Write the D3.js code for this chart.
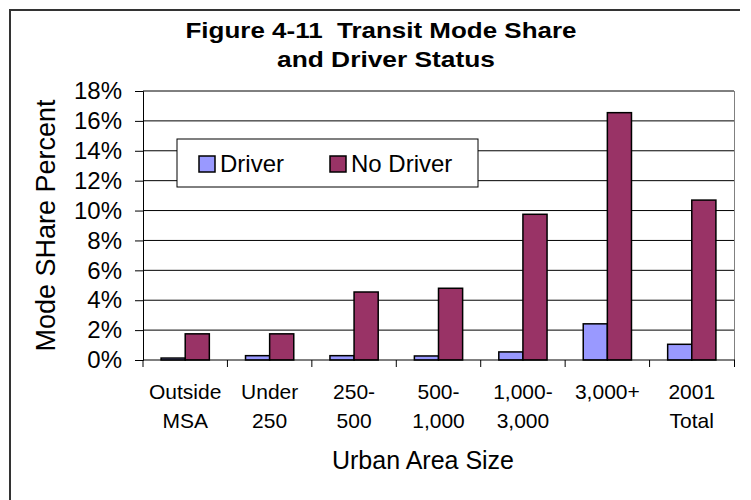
<!DOCTYPE html>
<meta charset="utf-8">
<script src="https://d3js.org/d3.v7.js"></script>
<style>
  body { margin: 0; background: #fff; }
  text { font-family: "Liberation Sans", Arial, sans-serif; fill: #000; }
</style>
<svg id="chart" width="751" height="500"></svg>
<script>

// data (percent shares)
const categories = ["Outside MSA", "Under 250", "250-500", "500-1,000", "1,000-3,000", "3,000+", "2001 Total"]
const categoryLines = [["Outside", "MSA"], ["Under", "250"], ["250-", "500"], ["500-", "1,000"], ["1,000-", "3,000"], ["3,000+"], ["2001", "Total"]]
const seriesNames = ["Driver", "No Driver"]
const driverValues = [0.0013, 0.0029, 0.0029, 0.0027, 0.0054, 0.0242, 0.0105]
const noDriverValues = [0.0175, 0.0175, 0.0455, 0.048, 0.0975, 0.1655, 0.107]
const yTicks = [0, 0.02, 0.04, 0.06, 0.08, 0.10, 0.12, 0.14, 0.16, 0.18]
const colors = {"Driver": "#9999ff", "No Driver": "#993366"}

const svg = d3.select("#chart")

// plot area
const plotLeft = 143, plotRight = 734, plotTop = 91, plotBottom = 360

const x0 = d3.scaleBand().domain(categories).range([plotLeft, plotRight])
const x1 = d3.scaleBand().domain(seriesNames).range([0, x0.bandwidth()]).paddingOuter(0.75)
const y = d3.scaleLinear().domain([0, 0.18]).range([plotBottom, plotTop])

const rows = categories.map((c, i) => ({cat: c, values: [
  {name: "Driver", v: driverValues[i]},
  {name: "No Driver", v: noDriverValues[i]}
]}))

// outer frame (left and top edges show in the picture)
svg.append("path")
  .attr("d", "M10,500 V10 H740")
  .attr("fill", "none")
  .attr("stroke", "#333")
  .attr("stroke-width", 2)

// gridlines
svg.append("g")
  .selectAll("line")
  .data(yTicks.slice(1))
  .join("line")
    .attr("x1", plotLeft).attr("x2", plotRight)
    .attr("y1", d => y(d)).attr("y2", d => y(d))
    .attr("stroke", "#000")
    .attr("stroke-width", 1)

// right edge of plot area
svg.append("line")
  .attr("x1", plotRight + 0.5).attr("x2", plotRight + 0.5)
  .attr("y1", plotTop).attr("y2", plotBottom)
  .attr("stroke", "#808080")

// y axis
const yAxis = svg.append("g")
  .attr("transform", `translate(${plotLeft},0)`)
  .call(d3.axisLeft(y).tickValues(yTicks).tickFormat(d3.format(".0%")).tickSize(8).tickPadding(13))
yAxis.select(".domain").attr("stroke", "#000")
yAxis.selectAll(".tick line").attr("stroke", "#000")
yAxis.selectAll(".tick text")
  .style("font-family", "'Liberation Sans', Arial, sans-serif")
  .style("font-size", "24px")
  .attr("fill", "#000")

// bars
svg.append("g")
  .selectAll("g")
  .data(rows)
  .join("g")
    .attr("transform", d => `translate(${x0(d.cat)},0)`)
  .selectAll("rect")
  .data(d => d.values)
  .join("rect")
    .attr("x", d => x1(d.name))
    .attr("y", d => y(d.v))
    .attr("width", x1.bandwidth())
    .attr("height", d => y(0) - y(d.v))
    .attr("fill", d => colors[d.name])
    .attr("stroke", "#000")
    .attr("stroke-width", 1.5)

// x axis
svg.append("line")
  .attr("x1", plotLeft).attr("x2", plotRight + 1)
  .attr("y1", plotBottom).attr("y2", plotBottom)
  .attr("stroke", "#000")
svg.append("g")
  .selectAll("line")
  .data(categories.concat(["end"]))
  .join("line")
    .attr("x1", (d, i) => i < categories.length ? x0(d) : plotRight + 0.5)
    .attr("x2", (d, i) => i < categories.length ? x0(d) : plotRight + 0.5)
    .attr("y1", plotBottom).attr("y2", plotBottom + 7)
    .attr("stroke", "#000")

// category labels
svg.append("g")
  .selectAll("text")
  .data(categories)
  .join("text")
    .attr("text-anchor", "middle")
    .style("font-size", "21px")
    .attr("x", d => x0(d) + x0.bandwidth() / 2)
    .attr("y", 399)
  .selectAll("tspan")
  .data((d, i) => categoryLines[i])
  .join("tspan")
    .attr("x", function() { return this.parentNode.getAttribute("x") })
    .attr("dy", (d, i) => i === 0 ? 0 : 29)
    .text(d => d)

// axis titles
svg.append("text")
  .attr("text-anchor", "middle")
  .attr("x", 423).attr("y", 469)
  .style("font-size", "25px")
  .text("Urban Area Size")

svg.append("text")
  .attr("text-anchor", "middle")
  .attr("transform", `translate(55,${(plotTop + plotBottom) / 2}) rotate(-90)`)
  .style("font-size", "27px")
  .text("Mode SHare Percent")

// title (stretched a little wider, like the original)
const titleLines = [
  {text: "Figure 4-11  Transit Mode Share", x: 381, y: 38, len: 391},
  {text: "and Driver Status", x: 386, y: 67, len: 218}
]
svg.append("g")
  .selectAll("text")
  .data(titleLines)
  .join("text")
    .attr("text-anchor", "middle")
    .attr("xml:space", "preserve")
    .style("font-weight", "bold")
    .style("font-size", "22px")
    .attr("x", d => d.x)
    .attr("y", d => d.y)
    .attr("textLength", d => d.len)
    .attr("lengthAdjust", "spacingAndGlyphs")
    .text(d => d.text)

// legend
const legend = svg.append("g").attr("transform", "translate(177,139)")
legend.append("rect")
  .attr("width", 301).attr("height", 48)
  .attr("fill", "#fff")
  .attr("stroke", "#000")
  .attr("stroke-width", 1)
const legendX = [22, 153]
const item = legend.selectAll("g.item")
  .data(seriesNames)
  .join("g")
    .attr("class", "item")
    .attr("transform", (d, i) => `translate(${legendX[i]},17)`)
item.append("rect")
  .attr("width", 16).attr("height", 16)
  .attr("fill", d => colors[d])
  .attr("stroke", "#000")
  .attr("stroke-width", 1.5)
item.append("text")
  .attr("x", 21).attr("y", 16)
  .style("font-size", "24px")
  .text(d => d)

</script>
